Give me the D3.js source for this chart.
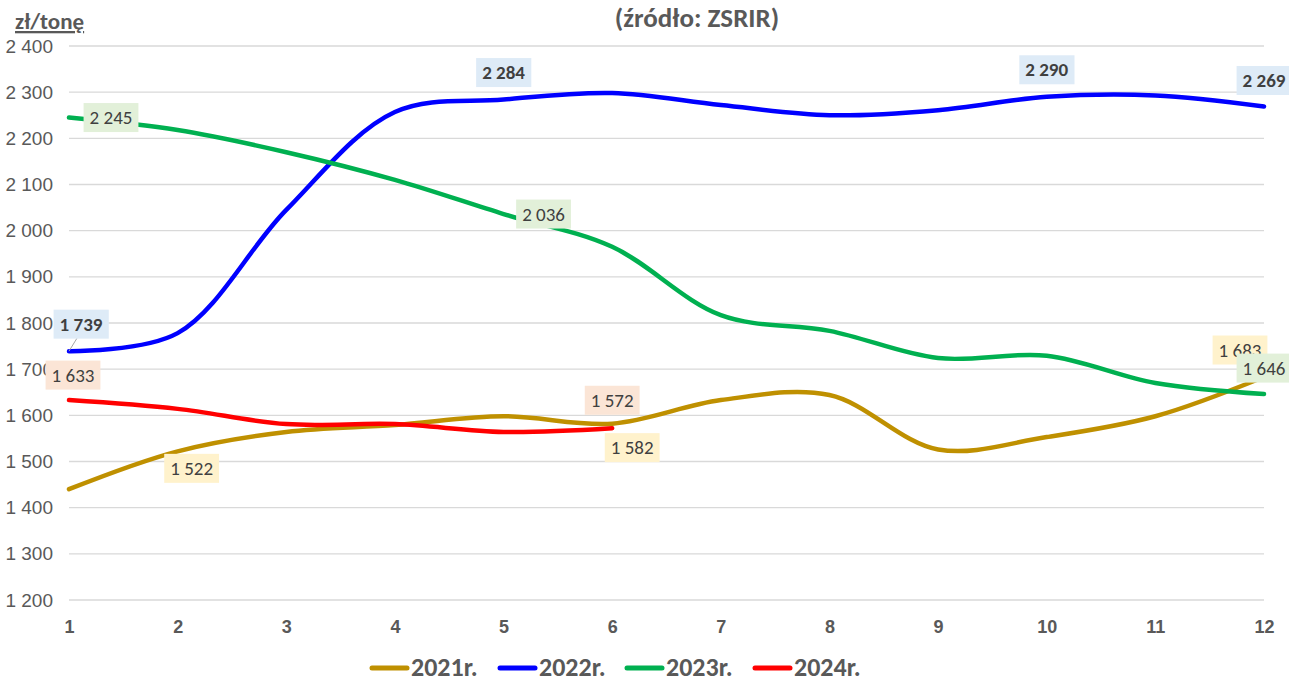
<!DOCTYPE html>
<html>
<head>
<meta charset="utf-8">
<script src="https://cdn.jsdelivr.net/npm/d3@7"></script>
<style>
  body { margin: 0; background: #fff; }
  svg { display: block; font-family: Calibri, Carlito, "Open Sans", "Noto Sans", sans-serif; }
</style>
</head>
<body>
<svg id="chart" width="1289" height="682"></svg>
<script>
// dane
const months = [1, 2, 3, 4, 5, 6, 7, 8, 9, 10, 11, 12];
const yTicks = [1200, 1300, 1400, 1500, 1600, 1700, 1800, 1900, 2000, 2100, 2200, 2300, 2400];
const seriesNames = ["2021r.", "2022r.", "2023r.", "2024r."];
const values2021 = [1440, 1522, 1564, 1579, 1598, 1582, 1633, 1644, 1526, 1553, 1598, 1683];
const values2022 = [1739, 1778, 2045, 2257, 2284, 2298, 2272, 2250, 2261, 2290, 2293, 2269];
const values2023 = [2245, 2218, 2170, 2110, 2036, 1965, 1817, 1783, 1724, 1729, 1670, 1646];
const values2024 = [1633, 1614, 1581, 1581, 1564, 1572];
const seriesColors = ["#BF9000", "#0000FF", "#00B050", "#FF0000"];
const labelFills = ["#FFF2CC", "#DEEBF7", "#E2F0D9", "#FBE5D6"];

// etykiety danych: seria, miesiąc, przesunięcie w px
const dataLabels = [
  { s: 0, m: 2, dx: 14, dy: 17 },
  { s: 0, m: 6, dx: 20, dy: 24 },
  { s: 0, m: 12, dx: -24, dy: -27 },
  { s: 1, m: 1, dx: 12, dy: -27, leader: true },
  { s: 1, m: 5, dx: 0, dy: -27 },
  { s: 1, m: 10, dx: 0, dy: -27 },
  { s: 1, m: 12, dx: 0, dy: -26 },
  { s: 2, m: 1, dx: 42, dy: 0 },
  { s: 2, m: 5, dx: 40, dy: 0 },
  { s: 2, m: 12, dx: 0, dy: -26 },
  { s: 3, m: 1, dx: 4, dy: -25 },
  { s: 3, m: 6, dx: 0, dy: -28 }
];

const allValues = [values2021, values2022, values2023, values2024];
const fmt = v => d3.format(",")(v).replace(/,/g, " ");

const svg = d3.select("#chart");
const margin = { top: 46, right: 25, bottom: 82, left: 69 };
const width = 1289, height = 682;

const x = d3.scaleLinear().domain([1, 12]).range([margin.left, width - margin.right]);
const y = d3.scaleLinear().domain([1200, 2400]).range([height - margin.bottom, margin.top]);

// siatka
svg.append("g")
  .selectAll("line")
  .data(yTicks)
  .join("line")
  .attr("x1", x(1)).attr("x2", x(12))
  .attr("y1", d => y(d)).attr("y2", d => y(d))
  .attr("stroke", "#d9d9d9").attr("stroke-width", 1.3);

// oś Y
const yAxis = svg.append("g")
  .attr("transform", `translate(${margin.left - 16},0)`)
  .call(d3.axisLeft(y).tickValues(yTicks).tickSize(0).tickFormat(fmt));
yAxis.select(".domain").remove();
yAxis.selectAll("text")
  .attr("x", 0)
  .attr("fill", "#595959")
  .style("font-size", "19px");

// oś X
const xAxis = svg.append("g")
  .attr("transform", `translate(0,${y(1200) + 33})`)
  .call(d3.axisBottom(x).tickValues(months).tickSize(0).tickFormat(d3.format("d")));
xAxis.select(".domain").remove();
xAxis.selectAll("text")
  .attr("y", 0).attr("dy", 0)
  .attr("fill", "#595959")
  .style("font-size", "18px")
  .style("font-weight", "bold");

// tytuł i jednostka
svg.append("text")
  .attr("x", 697).attr("y", 27)
  .attr("text-anchor", "middle")
  .attr("fill", "#595959")
  .style("font-size", "27px").style("font-weight", "bold")
  .text("(źródło: ZSRIR)");

svg.append("text")
  .attr("x", 15).attr("y", 29)
  .attr("fill", "#595959")
  .style("font-size", "23px").style("font-weight", "bold")
  .style("text-decoration", "underline")
  .text("zł/tonę");

// linie
const line = d3.line()
  .x((d, i) => x(months[i]))
  .y(d => y(d))
  .curve(d3.curveCatmullRom.alpha(0.5));

svg.append("g")
  .selectAll("path")
  .data(allValues)
  .join("path")
  .attr("d", d => line(d))
  .attr("fill", "none")
  .attr("stroke", (d, i) => seriesColors[i])
  .attr("stroke-width", 4.5)
  .attr("stroke-linecap", "round");

// etykiety danych
const lg = svg.append("g");
dataLabels.forEach(l => {
  const v = allValues[l.s][l.m - 1];
  const px = x(l.m), py = y(v);
  const cx = px + l.dx, cy = py + l.dy;
  const bold = l.s === 1;
  if (l.leader) {
    lg.append("line")
      .attr("x1", px).attr("y1", py)
      .attr("x2", cx - 4).attr("y2", cy + 14)
      .attr("stroke", "#a6a6a6").attr("stroke-width", 1);
  }
  const g = lg.append("g");
  const t = g.append("text")
    .attr("x", cx).attr("y", cy)
    .attr("text-anchor", "middle")
    .attr("dy", "0.35em")
    .attr("fill", "#404040")
    .style("font-size", "19px")
    .style("font-weight", bold ? "bold" : "normal")
    .text(fmt(v));
  const bb = t.node().getBBox();
  g.insert("rect", "text")
    .attr("x", bb.x - 6).attr("y", cy - 14.5)
    .attr("width", bb.width + 12).attr("height", 29)
    .attr("fill", labelFills[l.s]);
});

// legenda
const legendX = [370, 498, 625, 753];
const legend = svg.append("g");
seriesNames.forEach((name, i) => {
  legend.append("line")
    .attr("x1", legendX[i] + 2).attr("x2", legendX[i] + 37)
    .attr("y1", 668).attr("y2", 668)
    .attr("stroke", seriesColors[i]).attr("stroke-width", 5)
    .attr("stroke-linecap", "round");
  legend.append("text")
    .attr("x", legendX[i] + 41).attr("y", 676)
    .attr("fill", "#595959")
    .style("font-size", "26px").style("font-weight", "bold")
    .text(name);
});
</script>
</body>
</html>
